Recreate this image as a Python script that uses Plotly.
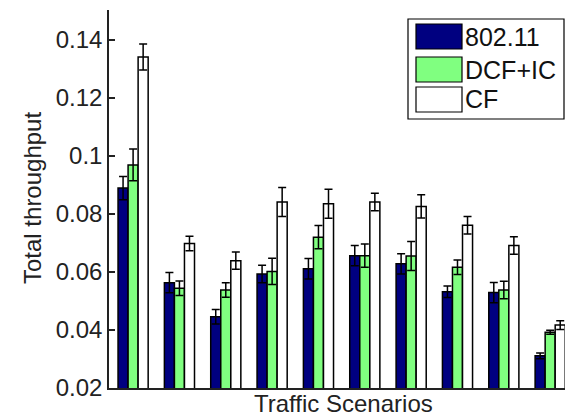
import plotly.graph_objects as go

# ---- data ----
scenarios = [1, 2, 3, 4, 5, 6, 7, 8, 9, 10]
series_names = ["802.11", "DCF+IC", "CF"]
thr_80211 = [0.0889, 0.0563, 0.0446, 0.0593, 0.0611, 0.0656, 0.0628, 0.0532, 0.0529, 0.0311]
err_80211 = [0.0040, 0.0035, 0.0025, 0.0030, 0.0035, 0.0035, 0.0035, 0.0020, 0.0035, 0.0010]
thr_dcfic = [0.0969, 0.0544, 0.0538, 0.0602, 0.0720, 0.0656, 0.0655, 0.0616, 0.0538, 0.0392]
err_dcfic = [0.0055, 0.0025, 0.0025, 0.0045, 0.0040, 0.0040, 0.0050, 0.0025, 0.0030, 0.0007]
thr_cf = [0.1341, 0.0698, 0.0639, 0.0841, 0.0835, 0.0841, 0.0826, 0.0761, 0.0691, 0.0417]
err_cf = [0.0045, 0.0025, 0.0030, 0.0050, 0.0050, 0.0030, 0.0040, 0.0030, 0.0030, 0.0015]
y_ticks = [0.02, 0.04, 0.06, 0.08, 0.1, 0.12, 0.14]
y_tick_labels = ["0.02", "0.04", "0.06", "0.08", "0.1", "0.12", "0.14"]

colors = ["#000080", "#80FF80", "#FFFFFF"]
values = [thr_80211, thr_dcfic, thr_cf]
errors = [err_80211, err_dcfic, err_cf]

W, H = 565, 416
ML, MR, MT, MB = 109, 0, 10, 416 - 388
PW, PH = W - ML - MR, H - MT - MB
FONT = "Liberation Sans, Arial, Helvetica, sans-serif"

def px(x):
    return (x - ML) / PW

def py(y):
    return (H - MB - y) / PH

fig = go.Figure()
for name, v, e, c in zip(series_names, values, errors, colors):
    fig.add_trace(go.Bar(
        x=scenarios, y=v, name=name,
        marker=dict(color=c, line=dict(color="black", width=1.5)),
        error_y=dict(type="data", array=e, color="black", thickness=1.5, width=4),
        showlegend=False,
    ))

shapes = []
annotations = []
# legend box
shapes.append(dict(type="rect", xref="paper", yref="paper",
                   x0=px(408), x1=px(564), y0=py(119), y1=py(19),
                   line=dict(color="black", width=1.2), fillcolor="white", layer="above"))
sw_tops = [24, 57, 87]
for name, c, t in zip(series_names, colors, sw_tops):
    shapes.append(dict(type="rect", xref="paper", yref="paper",
                       x0=px(416), x1=px(462), y0=py(t + 25), y1=py(t),
                       line=dict(color="black", width=1.2), fillcolor=c, layer="above"))
    annotations.append(dict(text=name, xref="paper", yref="paper",
                            x=px(463), y=py(t + 12.5), xanchor="left", yanchor="middle",
                            showarrow=False, font=dict(family=FONT, size=25, color="#111")))

annotations.append(dict(text="Total throughput", xref="paper", yref="paper",
                        x=px(32), y=py(198), textangle=-90, xanchor="center", yanchor="middle",
                        showarrow=False, font=dict(family=FONT, size=24, color="#222")))
annotations.append(dict(text="Traffic Scenarios", xref="paper", yref="paper",
                        x=px(343), y=py(403), xanchor="center", yanchor="middle",
                        showarrow=False, font=dict(family=FONT, size=24, color="#222")))

fig.update_layout(
    width=W, height=H,
    margin=dict(l=ML, r=MR, t=MT, b=MB, pad=0),
    paper_bgcolor="white", plot_bgcolor="white",
    barmode="group", bargap=0.35, bargroupgap=0.0,
    shapes=shapes, annotations=annotations,
    font=dict(family=FONT, color="#222"),
    xaxis=dict(range=[0.48, 10.32], showticklabels=False, ticks="", showgrid=False,
               zeroline=False, showline=True, linecolor="#222", linewidth=1.5),
    yaxis=dict(range=[0.02, 0.1503], tickvals=y_ticks, ticktext=y_tick_labels,
               ticks="inside", ticklen=6, tickwidth=1.5, tickcolor="#222",
               showgrid=False, zeroline=False, showline=True, linecolor="#222", linewidth=1.5,
               tickfont=dict(family=FONT, size=24, color="#222")),
)

fig.write_html(
    "out.html",
    config={"displayModeBar": False},
    post_script="document.body.style.margin='0';document.body.style.overflow='hidden';"
                "document.documentElement.style.overflow='hidden';",
)
